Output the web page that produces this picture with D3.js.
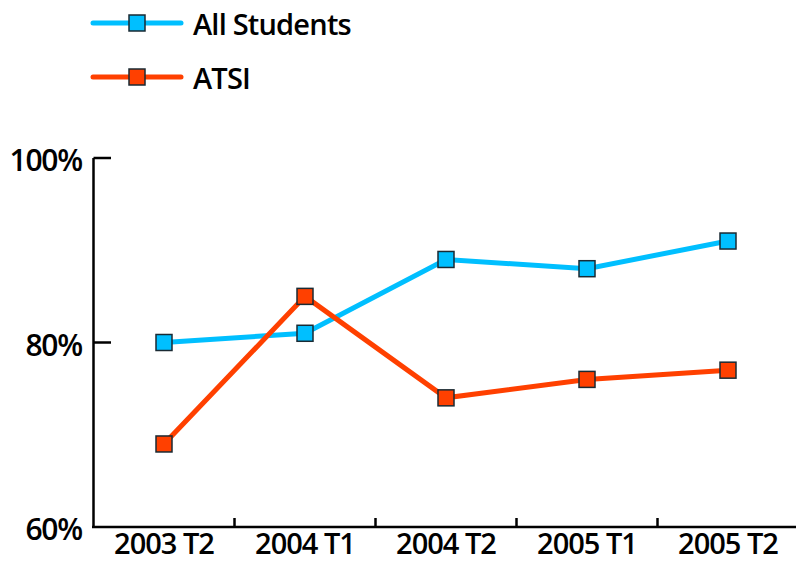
<!DOCTYPE html>
<meta charset="utf-8">
<script src="https://d3js.org/d3.v7.min.js"></script>
<style>
  body { margin: 0; background: #fff; }
  text { font-family: "Open Sans", sans-serif; font-weight: 600; fill: #000; }
</style>
<div id="chart"></div>
<script>
  // data
  const terms = ["2003 T2", "2004 T1", "2004 T2", "2005 T1", "2005 T2"];
  const allStudents = [80, 81, 89, 88, 91];
  const atsi = [69, 85, 74, 76, 77];
  const yTicks = [60, 80, 100];

  const series = [
    {name: "All Students", values: allStudents, color: "#00bfff"},
    {name: "ATSI", values: atsi, color: "#ff4000"}
  ];

  const W = 796, H = 562;
  const svg = d3.select("#chart").append("svg")
      .attr("width", W).attr("height", H);

  const x = d3.scaleBand().domain(terms).range([93.5, 798.5]);
  const y = d3.scaleLinear().domain([60, 100]).range([527, 158]);

  // axes
  const axis = svg.append("g").attr("stroke", "#000").attr("stroke-width", 2.5);
  axis.append("line").attr("x1", 93.5).attr("x2", 93.5).attr("y1", y(100)).attr("y2", y(60));
  axis.append("line").attr("x1", 92).attr("x2", W).attr("y1", y(60)).attr("y2", y(60));
  yTicks.filter(d => d > 60).forEach(d => {
    axis.append("line").attr("x1", 93.5).attr("x2", 111).attr("y1", y(d)).attr("y2", y(d));
  });
  terms.slice(1).forEach(t => {
    axis.append("line").attr("x1", x(t)).attr("x2", x(t)).attr("y1", y(60)).attr("y2", y(60) - 9);
  });

  svg.append("g").selectAll("text").data(yTicks).join("text")
      .attr("x", 82).attr("y", d => y(d) + 13)
      .attr("text-anchor", "end")
      .style("font-size", "30px")
      .style("letter-spacing", "-1.2px")
      .text(d => d + "%");

  svg.append("g").selectAll("text").data(terms).join("text")
      .attr("x", d => x(d) + x.bandwidth() / 2).attr("y", 554)
      .attr("text-anchor", "middle")
      .style("font-size", "29px")
      .style("letter-spacing", "-1px")
      .text(d => d);

  // lines and markers
  const line = d3.line()
      .x((d, i) => x(terms[i]) + x.bandwidth() / 2)
      .y(d => y(d));

  series.forEach(s => {
    svg.append("path")
        .attr("d", line(s.values))
        .attr("fill", "none")
        .attr("stroke", s.color)
        .attr("stroke-width", 5);
    svg.append("g").selectAll("rect").data(s.values).join("rect")
        .attr("x", (d, i) => x(terms[i]) + x.bandwidth() / 2 - 8)
        .attr("y", d => y(d) - 8)
        .attr("width", 16).attr("height", 16)
        .attr("fill", s.color)
        .attr("stroke", "#1a2a33")
        .attr("stroke-width", 1.5);
  });

  // legend
  const legend = svg.append("g");
  series.forEach((s, i) => {
    const ly = 23 + i * 54;
    legend.append("line")
        .attr("x1", 93).attr("x2", 181).attr("y1", ly).attr("y2", ly)
        .attr("stroke", s.color).attr("stroke-width", 5).attr("stroke-linecap", "round");
    legend.append("rect")
        .attr("x", 129).attr("y", ly - 8).attr("width", 16).attr("height", 16)
        .attr("fill", s.color).attr("stroke", "#1a2a33").attr("stroke-width", 1.5);
    legend.append("text")
        .attr("x", 193).attr("y", ly + 12)
        .style("font-size", "29px")
        .style("letter-spacing", "-0.8px")
        .text(s.name);
  });
</script>
</html>
